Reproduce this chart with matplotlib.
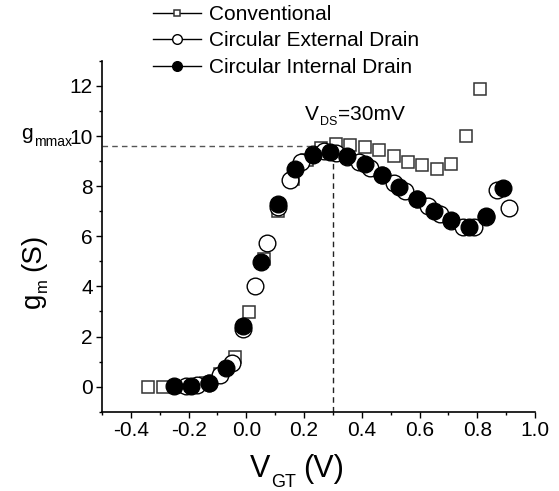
import matplotlib
matplotlib.use("Agg")
import matplotlib.pyplot as plt
from matplotlib.ticker import MultipleLocator

plt.rcParams['font.family'] = ['Liberation Sans', 'DejaVu Sans']

# Conventional (open squares)
conv_x = [-0.34, -0.29, -0.24, -0.19, -0.14, -0.09, -0.04, 0.01, 0.06, 0.11, 0.16, 0.21,
          0.26, 0.31, 0.36, 0.41, 0.46, 0.51, 0.56, 0.61, 0.66, 0.71, 0.76, 0.81]
conv_y = [0.0, 0.0, 0.0, 0.03, 0.14, 0.5, 1.2, 2.97, 5.1, 7.02, 8.28, 9.05,
          9.51, 9.67, 9.63, 9.56, 9.43, 9.22, 8.98, 8.83, 8.7, 8.87, 10.0, 11.86]

# Circular External Drain (open circles)
ext_x = [-0.21, -0.17, -0.13, -0.09, -0.05, -0.01, 0.03, 0.07, 0.11, 0.15, 0.19, 0.23,
         0.27, 0.31, 0.35, 0.39, 0.43, 0.47, 0.51, 0.55, 0.59, 0.63, 0.67, 0.71,
         0.75, 0.79, 0.83, 0.87, 0.91]
ext_y = [0.02, 0.05, 0.15, 0.47, 0.96, 2.3, 4.03, 5.74, 7.15, 8.26, 8.95, 9.28,
         9.4, 9.31, 9.15, 8.98, 8.74, 8.45, 8.13, 7.81, 7.5, 7.2, 6.88, 6.6,
         6.39, 6.37, 6.75, 7.85, 7.11]

# Circular Internal Drain (filled circles)
int_x = [-0.25, -0.19, -0.13, -0.07, -0.01, 0.05, 0.11, 0.17, 0.23, 0.29, 0.35, 0.41,
         0.47, 0.53, 0.59, 0.65, 0.71, 0.77, 0.83, 0.89]
int_y = [0.03, 0.04, 0.16, 0.76, 2.42, 4.99, 7.29, 8.68, 9.25, 9.37, 9.2, 8.89,
         8.45, 7.95, 7.5, 6.99, 6.64, 6.37, 6.8, 7.93]

x_ticks = [-0.4, -0.2, 0.0, 0.2, 0.4, 0.6, 0.8, 1.0]
x_tick_labels = ['-0.4', '-0.2', '0.0', '0.2', '0.4', '0.6', '0.8', '1.0']
y_ticks = [0, 2, 4, 6, 8, 10, 12]

gm_max = 9.62
vgt_at_max = 0.30

W, H = 559, 491
fig = plt.figure(figsize=(W / 100, H / 100), dpi=100)
ax = fig.add_axes([0.1825, 0.1615, 0.7745, 0.7145])

ax.plot(conv_x, conv_y, linestyle='none', marker='s', ms=8.6, mfc='white',
        mec='#333333', mew=1.1, label='Conventional', zorder=3)
ax.plot(ext_x, ext_y, linestyle='none', marker='o', ms=12, mfc='white',
        mec='black', mew=1.0, label='Circular External Drain', zorder=4)
ax.plot(int_x, int_y, linestyle='none', marker='o', ms=12, mfc='black',
        mec='black', mew=1.0, label='Circular Internal Drain', zorder=5)

ax.plot([-0.5, vgt_at_max], [gm_max, gm_max], linestyle=(0, (4, 3)), color='#555555', lw=1.0, zorder=2)
ax.plot([vgt_at_max, vgt_at_max], [-1, gm_max], linestyle=(0, (4, 3)), color='#222222', lw=1.0, zorder=2)

ax.set_xlim(-0.5, 1.0)
ax.set_ylim(-1, 13)
ax.xaxis.set_minor_locator(MultipleLocator(0.1))
ax.yaxis.set_minor_locator(MultipleLocator(1))
ax.set_xticks(x_ticks)
ax.set_xticklabels(x_tick_labels)
ax.set_yticks(y_ticks)
ax.tick_params(which='major', direction='out', length=4.5, width=1, labelsize=15, pad=2)
ax.tick_params(which='minor', direction='out', length=2.5, width=1)
for s in ['top', 'right']:
    ax.spines[s].set_visible(False)
for s in ['left', 'bottom']:
    ax.spines[s].set_linewidth(1.2)

renderer = fig.canvas.get_renderer()


def rich_text(x, y, pieces, rotation=0):
    """pieces: (text, fontsize, shift_px, gap_before_px). x,y in px from top-left; y is baseline."""
    pos = 0.0
    for s, size, shift, gap in pieces:
        pos += gap
        if rotation == 0:
            t = fig.text((x + pos) / W, 1 - (y + shift) / H, s, fontsize=size,
                         ha='left', va='baseline')
            ext = t.get_window_extent(renderer)
            pos += ext.width
        else:
            t = fig.text((x + shift) / W, 1 - (y - pos) / H, s, fontsize=size,
                         ha='left', va='baseline', rotation=90, rotation_mode='anchor')
            ext = t.get_window_extent(renderer)
            pos += ext.height


rich_text(250, 477, [('V', 22, 0, 0), ('GT', 13, 10, 1), ('(V)', 22, 0, 7)])
rich_text(40, 308, [('g', 20, 0, 0), ('m', 12, 7, 1), ('(S)', 20, 0, 7)], rotation=90)
rich_text(21, 139, [('g', 15, 0, 0), ('mmax', 10, 7, 1)])
rich_text(305, 120, [('V', 15, 0, 0), ('DS', 9, 5, 1), ('=30mV', 15, 0, 1)])

leg = fig.legend(loc='upper left', bbox_to_anchor=(153 / W, 1 - 5 / H), frameon=False,
                 fontsize=15, markerscale=0.58, handlelength=2.3, handletextpad=0.4,
                 labelspacing=0.36, borderpad=0, borderaxespad=0, numpoints=1)
for h in leg.legend_handles:
    h.set_linestyle('-')
    h.set_linewidth(1.0)
    h.set_color('black')

fig.savefig('out.png', dpi=100)
